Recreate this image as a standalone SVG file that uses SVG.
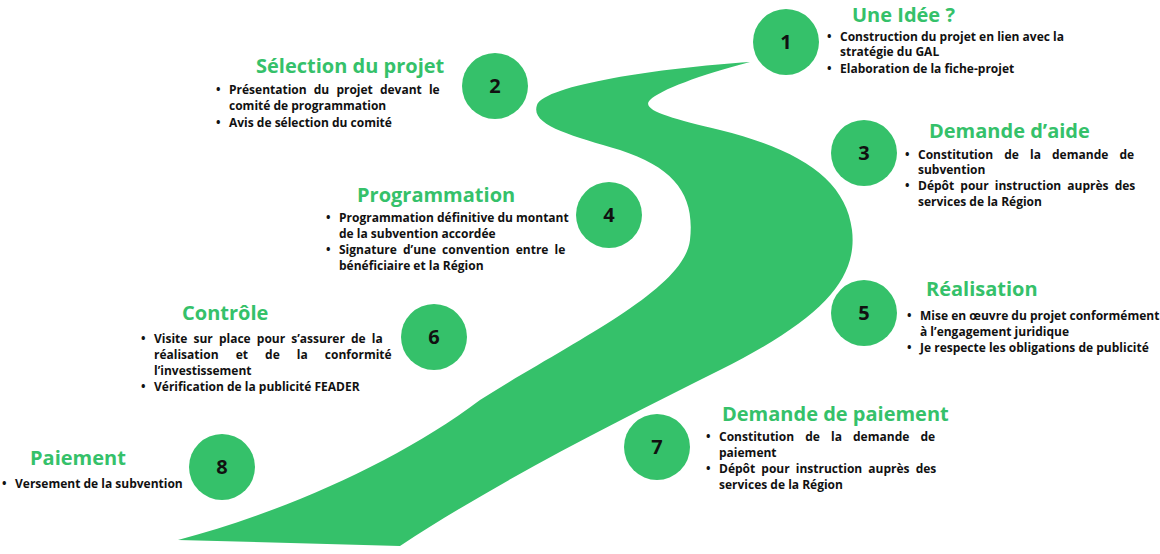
<svg xmlns="http://www.w3.org/2000/svg" width="1160" height="554" viewBox="0 0 1160 554">
<style>
.c{fill:#35c16a}
.n{font:bold 20px "Open Sans",sans-serif;fill:#111;text-anchor:middle}
.t{font:bold 20px "Open Sans",sans-serif;fill:#35c16a}
.b{font:bold 12px "Open Sans",sans-serif;fill:#111}
</style>
<rect width="1160" height="554" fill="#fff"/>
<g id="road">
<path class="c" d="M750,62 C660,68 545,85 537,105 C530,125 570,135 620,150 C675,168 695,195 690,240 C684,290 575,340 480,400 C400,460 290,510 178,540 L400,546 C500,480 620,420 720,370 C820,320 858,280 852,230 C846,180 800,150 720,130 C670,118 640,110 650,100 C660,90 700,75 750,62 Z"/>
</g>
<g id="connectors"></g>
<g id="n1"><circle class="c" cx="786" cy="42" r="33"/><text class="n" x="786" y="49">1</text>
<text class="t" x="852" y="22">Une Idée ?</text>
<text class="b" x="827" y="41">•</text><text class="b" x="840" y="41">Construction du projet en lien avec la</text><text class="b" x="840" y="56">stratégie du GAL</text>
<text class="b" x="827" y="73">•</text><text class="b" x="840" y="73">Elaboration de la fiche-projet</text></g>
<g id="n2"><circle class="c" cx="495" cy="86" r="33"/><text class="n" x="495" y="93">2</text>
<text class="t" x="256" y="73">Sélection du projet</text>
<text class="b" x="216" y="94">•</text><text class="b" x="229" y="94" word-spacing="4">Présentation du projet devant le</text><text class="b" x="229" y="110">comité de programmation</text>
<text class="b" x="216" y="127">•</text><text class="b" x="229" y="127">Avis de sélection du comité</text></g>
<g id="n3"><circle class="c" cx="864" cy="153" r="33"/><text class="n" x="864" y="160">3</text>
<text class="t" x="929" y="138">Demande d’aide</text>
<text class="b" x="905" y="159">•</text><text class="b" x="918" y="159" word-spacing="8">Constitution de la demande de</text><text class="b" x="918" y="174">subvention</text>
<text class="b" x="905" y="190">•</text><text class="b" x="918" y="190" word-spacing="3">Dépôt pour instruction auprès des</text><text class="b" x="918" y="206">services de la Région</text></g>
<g id="n4"><circle class="c" cx="609" cy="215" r="33"/><text class="n" x="609" y="222">4</text>
<text class="t" x="357" y="202">Programmation</text>
<text class="b" x="326" y="222">•</text><text class="b" x="339" y="222">Programmation définitive du montant</text><text class="b" x="339" y="238">de la subvention accordée</text>
<text class="b" x="326" y="254">•</text><text class="b" x="339" y="254" word-spacing="3">Signature d’une convention entre le</text><text class="b" x="339" y="270">bénéficiaire et la Région</text></g>
<g id="n5"><circle class="c" cx="864" cy="313" r="33"/><text class="n" x="864" y="320">5</text>
<text class="t" x="926" y="296">Réalisation</text>
<text class="b" x="907" y="320">•</text><text class="b" x="920" y="320">Mise en œuvre du projet conformément</text><text class="b" x="920" y="336">à l’engagement juridique</text>
<text class="b" x="907" y="352">•</text><text class="b" x="920" y="352">Je respecte les obligations de publicité</text></g>
<g id="n6"><circle class="c" cx="434" cy="337" r="33"/><text class="n" x="434" y="344">6</text>
<text class="t" x="182" y="320">Contrôle</text>
<text class="b" x="141" y="343">•</text><text class="b" x="154" y="343" word-spacing="3">Visite sur place pour s’assurer de la</text><text class="b" x="154" y="359" word-spacing="14">réalisation et de la conformité</text>
<text class="b" x="154" y="375">l’investissement</text>
<text class="b" x="141" y="391">•</text><text class="b" x="154" y="391">Vérification de la publicité FEADER</text></g>
<g id="n7"><circle class="c" cx="657" cy="447" r="33"/><text class="n" x="657" y="454">7</text>
<text class="t" x="722" y="421">Demande de paiement</text>
<text class="b" x="706" y="441">•</text><text class="b" x="719" y="441" word-spacing="8">Constitution de la demande de</text><text class="b" x="719" y="457">paiement</text>
<text class="b" x="706" y="473">•</text><text class="b" x="719" y="473" word-spacing="3">Dépôt pour instruction auprès des</text><text class="b" x="719" y="489">services de la Région</text></g>
<g id="n8"><circle class="c" cx="222" cy="467" r="33"/><text class="n" x="222" y="474">8</text>
<text class="t" x="30" y="465">Paiement</text>
<text class="b" x="2" y="488">•</text><text class="b" x="15" y="488">Versement de la subvention</text></g>
</svg>
